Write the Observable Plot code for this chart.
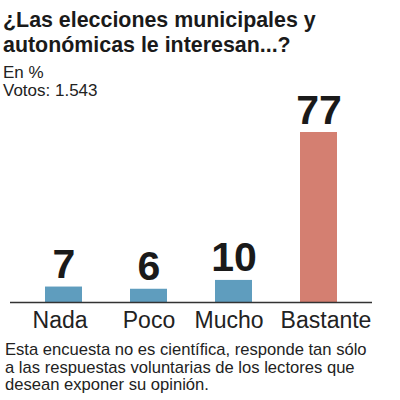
<!DOCTYPE html>
<html>
<head>
<meta charset="utf-8">
<script src="https://cdn.jsdelivr.net/npm/d3@7"></script>
<script src="https://cdn.jsdelivr.net/npm/@observablehq/plot@0.6"></script>
<style>
  html, body { margin: 0; padding: 0; background: #fff; }
  body { width: 400px; height: 400px; position: relative; overflow: hidden; font-family: "Liberation Sans", Arial, sans-serif; color: #1a1a1a; }
  .title { position: absolute; left: 3px; top: 8px; font-size: 21.4px; line-height: 25px; font-weight: bold; color: #1a1a1a; }
  .sub { position: absolute; left: 3px; top: 64px; font-size: 17px; line-height: 18px; color: #222; }
  #chart { position: absolute; left: 0; top: 85px; }
  .caption { position: absolute; left: 5px; top: 341px; font-size: 16.6px; line-height: 17.5px; color: #222; }
</style>
</head>
<body>
<div class="title">¿Las elecciones municipales y<br>autonómicas le interesan...?</div>
<div class="sub">En %<br>Votos: 1.543</div>
<div id="chart"></div>
<div class="caption">Esta encuesta no es científica, responde tan sólo<br>a las respuestas voluntarias de los lectores que<br>desean exponer su opinión.</div>
<script>
const categories = ["Nada", "Poco", "Mucho", "Bastante"];
const values = [7, 6, 10, 77];
const colors = ["#5f9dbe", "#5f9dbe", "#5f9dbe", "#d47f71"];

const data = categories.map((c, i) => ({category: c, value: values[i], color: colors[i]}));
const axisOpts = {tickSize: 0, tickPadding: 9, fontSize: 23, label: null, fill: "#222"};

const chart = Plot.plot({
  width: 400,
  height: 250,
  marginTop: 47,
  marginBottom: 33,
  marginLeft: 10,
  marginRight: 28,
  style: {fontFamily: "Liberation Sans, Arial, sans-serif", color: "#222", background: "transparent"},
  x: {domain: categories, paddingInner: 0.565, paddingOuter: 0.41, label: null},
  y: {domain: [0, 77], axis: null},
  marks: [
    Plot.barY(data, {x: "category", y: "value", fill: "color"}),
    Plot.ruleY([0], {stroke: "#333", strokeWidth: 1.5}),
    Plot.text(data, {x: "category", y: "value", text: d => String(d.value), lineAnchor: "bottom", dy: -9, fontSize: 41, fontWeight: "bold", fill: "#1a1a1a"}),
    Plot.axisX([categories[0]], {...axisOpts, dx: -4}),
    Plot.axisX([categories[1]], {...axisOpts}),
    Plot.axisX([categories[2]], {...axisOpts, dx: -5}),
    Plot.axisX([categories[3]], {...axisOpts, dx: 7})
  ]
});
document.getElementById("chart").appendChild(chart);
</script>
</body>
</html>
